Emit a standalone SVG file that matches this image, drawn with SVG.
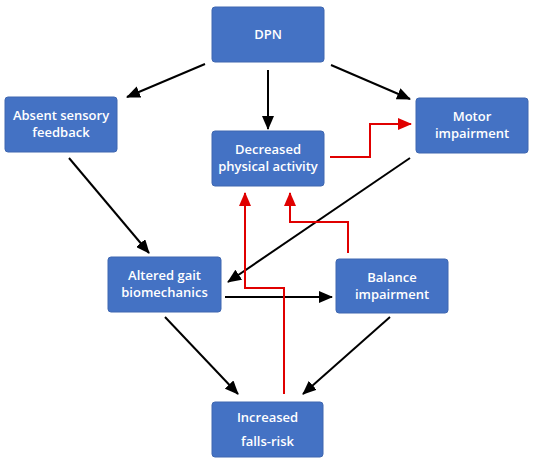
<svg xmlns="http://www.w3.org/2000/svg" width="537" height="465" viewBox="0 0 537 465">
<defs>
<style>
.box{fill:#4472C4;stroke:#3F67B0;stroke-width:1}
.t{font-family:"Open Sans","Liberation Sans",sans-serif;font-weight:600;font-size:13px;fill:#fff;text-anchor:middle}
.k{fill:none;stroke:#000;stroke-width:2}
.r{fill:none;stroke:#E00000;stroke-width:2}
</style>
<marker id="ak" markerUnits="userSpaceOnUse" markerWidth="14" markerHeight="12" refX="13" refY="6" orient="auto"><path d="M0,0 L14,6 L0,12 Z" fill="#000"/></marker>
<marker id="ar" markerUnits="userSpaceOnUse" markerWidth="14" markerHeight="12" refX="13" refY="6" orient="auto"><path d="M0,0 L14,6 L0,12 Z" fill="#E00000"/></marker>
</defs>
<rect width="537" height="465" fill="#fff"/>
<g id="connectors">
<line class="k" x1="205" y1="64" x2="127" y2="97" marker-end="url(#ak)"/>
<line class="k" x1="268" y1="70" x2="268" y2="129" marker-end="url(#ak)"/>
<line class="k" x1="331" y1="65" x2="410" y2="99" marker-end="url(#ak)"/>
<polyline class="r" points="330,157 370,157 370,124 411,124" marker-end="url(#ar)"/>
<line class="k" x1="410" y1="158" x2="228" y2="282" marker-end="url(#ak)"/>
<line class="k" x1="69" y1="158" x2="149" y2="253" marker-end="url(#ak)"/>
<line class="k" x1="225" y1="297" x2="332" y2="297" marker-end="url(#ak)"/>
<line class="k" x1="165" y1="317" x2="238" y2="394" marker-end="url(#ak)"/>
<line class="k" x1="390" y1="317" x2="303" y2="394" marker-end="url(#ak)"/>
<polyline class="r" points="284,394 284,288 245,288 245,193" marker-end="url(#ar)"/>
<polyline class="r" points="348,253 348,222 290,222 290,193" marker-end="url(#ar)"/>
</g>
<g id="dpn"><rect class="box" x="212" y="7" width="112" height="55" rx="3"/><text class="t" x="268" y="39">DPN</text></g>
<g id="absent"><rect class="box" x="5" y="97" width="112" height="55" rx="3"/><text class="t" x="61" y="120">Absent sensory</text><text class="t" x="61" y="137">feedback</text></g>
<g id="decreased"><rect class="box" x="212" y="131" width="112" height="55" rx="3"/><text class="t" x="268" y="154">Decreased</text><text class="t" x="268" y="171">physical activity</text></g>
<g id="motor"><rect class="box" x="416" y="98" width="112" height="55" rx="3"/><text class="t" x="472" y="121">Motor</text><text class="t" x="472" y="138">impairment</text></g>
<g id="altered"><rect class="box" x="108" y="257" width="113" height="55" rx="3"/><text class="t" x="164.5" y="280">Altered gait</text><text class="t" x="164.5" y="297">biomechanics</text></g>
<g id="balance"><rect class="box" x="336" y="259" width="112" height="54" rx="3"/><text class="t" x="392" y="282">Balance</text><text class="t" x="392" y="299">impairment</text></g>
<g id="falls"><rect class="box" x="212" y="402" width="111" height="55" rx="3"/><text class="t" x="267.5" y="422">Increased</text><text class="t" x="267.5" y="446">falls-risk</text></g>
</svg>
